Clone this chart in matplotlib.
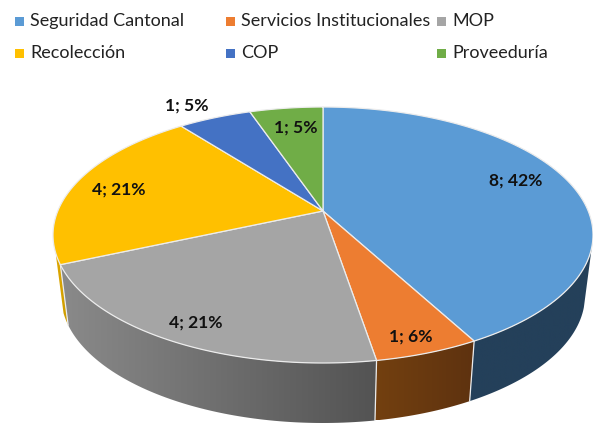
import numpy as np
import matplotlib
matplotlib.use("Agg")
import matplotlib.pyplot as plt
from matplotlib.colors import LinearSegmentedColormap
from matplotlib.patches import Polygon, Rectangle

# data <<<
categories = ["Seguridad Cantonal", "Servicios Institucionales", "MOP",
              "Recolección", "COP", "Proveeduría"]
values = [8, 1, 4, 4, 1, 1]
labels = ["8; 42%", "1; 6%", "4; 21%", "4; 21%", "1; 5%", "1; 5%"]
# >>>

# style <<<
top_colors = ["#5b9bd5", "#ed7d31", "#a5a5a5", "#ffc000", "#4472c4", "#70ad47"]
wall_left = ["#24405a", "#73400f", "#8a8a8a", "#e0a800", "#2a4a80", "#4a7530"]
wall_right = ["#24405a", "#5e3210", "#535353", "#c99a00", "#2a4a80", "#4a7530"]
edge_color = "#ececec"
label_pos = [(516, 181), (411, 337), (196, 323), (119, 190), (187, 106), (296, 128)]
legend_x = [15, 226, 437, 15, 226, 437]
legend_y = [21, 21, 21, 53, 53, 53]
# >>>

# geometry: tilted disc, angle t runs clockwise from 12 o'clock <<<
V = 0.1875
CX = 323


def project(t, cx, cy, rx, ry):
    x, y = np.sin(t), np.cos(t)
    yp = (y + V) / (1 + V * y)
    xp = x * np.sqrt(1 - V ** 2) / (1 + V * y)
    return cx + rx * xp, cy - ry * yp


def top_face(t):
    return project(t, CX, 235, 270, 128)


def bottom_face(t):
    return project(t, CX, 295.5, 262, 127.5)


edges = 2 * np.pi * np.cumsum([0] + values) / sum(values)
wall_from = np.radians(106)
wall_to = np.radians(251.5)
apex = (CX, 235 - 128 * V)
# >>>

# plot <<<
fig = plt.figure(figsize=(5.93, 4.25), dpi=100)
ax = fig.add_axes([0, 0, 1, 1])

# side walls, gradient image clipped to each piece
for i in range(len(values)):
    t0, t1 = max(edges[i], wall_from), min(edges[i + 1], wall_to)
    if t1 <= t0:
        continue
    ts = np.linspace(t0, t1, 80)
    tx, ty = top_face(ts)
    bx, by = bottom_face(ts)
    xs = np.r_[tx, bx[::-1]]
    ys = np.r_[ty, by[::-1]]
    wall = Polygon(np.c_[xs, ys], closed=True, facecolor="none", edgecolor="none",
                   transform=ax.transData)
    ax.add_patch(wall)
    cmap = LinearSegmentedColormap.from_list("wall", [wall_left[i], wall_right[i]])
    im = ax.imshow(np.linspace(0, 1, 256).reshape(1, -1), cmap=cmap, aspect="auto",
                   extent=(xs.min(), xs.max(), ys.max(), ys.min()), zorder=2)
    im.set_clip_path(wall)

ax.set_xlim(0, 593)
ax.set_ylim(425, 0)
ax.axis("off")

# seams between the wall pieces
for i in range(1, len(values)):
    if wall_from < edges[i] < wall_to:
        tx, ty = top_face(edges[i])
        bx, by = bottom_face(edges[i])
        ax.plot([tx, bx], [ty, by], color=edge_color, lw=0.9, zorder=3)

# top face
for i, c in enumerate(top_colors):
    ts = np.linspace(edges[i], edges[i + 1], 120)
    tx, ty = top_face(ts)
    ax.fill(np.r_[apex[0], tx], np.r_[apex[1], ty], facecolor=c,
            edgecolor=edge_color, lw=0.9, zorder=4, joinstyle="round")

for (x, y), s in zip(label_pos, labels):
    ax.text(x, y, s, family="Lato", weight="bold", fontsize=12.6, color="#111111",
            ha="center", va="center", zorder=5)

# legend
for x, y, name, c in zip(legend_x, legend_y, categories, top_colors):
    ax.add_patch(Rectangle((x, y - 4.5), 9, 9, facecolor=c, edgecolor="none"))
    ax.text(x + 15, y, name, family="Lato", fontsize=12.95, color="#222222",
            ha="left", va="center")

fig.savefig("out.png", dpi=100)
# >>>
